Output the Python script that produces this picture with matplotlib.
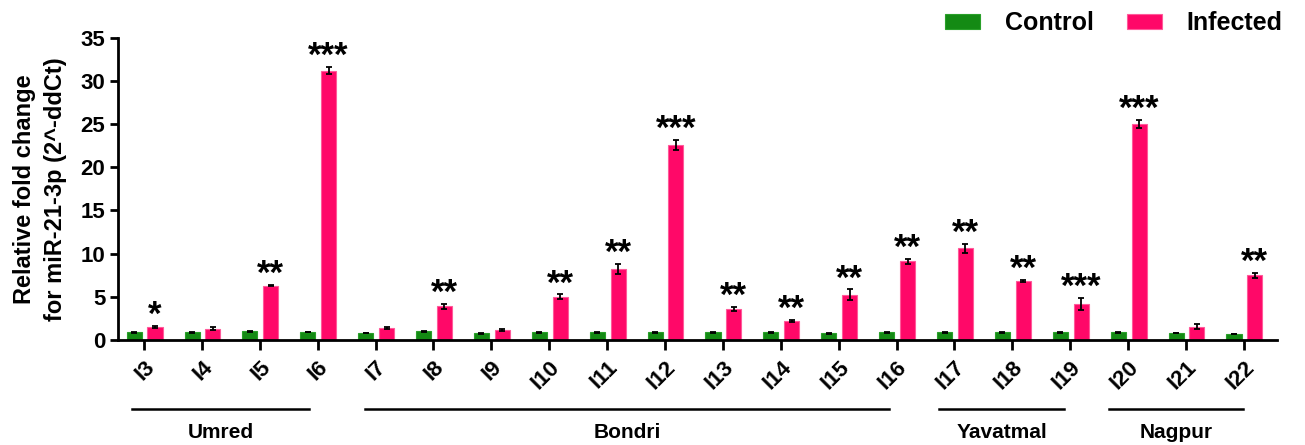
import numpy as np
import matplotlib
matplotlib.use("Agg")
import matplotlib.pyplot as plt

plt.rcParams['font.family'] = ['Liberation Sans', 'DejaVu Sans']
plt.rcParams['font.weight'] = 'bold'

# data
samples = ['I3', 'I4', 'I5', 'I6', 'I7', 'I8', 'I9', 'I10', 'I11', 'I12',
           'I13', 'I14', 'I15', 'I16', 'I17', 'I18', 'I19', 'I20', 'I21', 'I22']
control = [0.9, 0.9, 1.0, 0.9, 0.8, 1.0, 0.8, 0.9, 0.9, 0.9,
           0.9, 0.9, 0.8, 0.9, 0.9, 0.9, 0.9, 0.9, 0.8, 0.7]
control_err = [0.05, 0.05, 0.05, 0.0, 0.0, 0.05, 0.05, 0.05, 0.05, 0.05,
               0.05, 0.05, 0.05, 0.05, 0.05, 0.05, 0.05, 0.05, 0.0, 0.0]
infected = [1.5, 1.3, 6.3, 31.2, 1.4, 3.9, 1.15, 5.0, 8.2, 22.6,
            3.6, 2.2, 5.25, 9.1, 10.6, 6.85, 4.2, 25.0, 1.55, 7.5]
infected_err = [0.1, 0.2, 0.1, 0.4, 0.1, 0.3, 0.15, 0.3, 0.6, 0.6,
                0.2, 0.15, 0.6, 0.3, 0.5, 0.15, 0.7, 0.5, 0.3, 0.3]
signif = ['*', '', '**', '***', '', '**', '', '**', '**', '***',
          '**', '**', '**', '**', '**', '**', '***', '***', '', '**']

groups = ['Umred', 'Bondri', 'Yavatmal', 'Nagpur']
group_span = [(-0.21, 2.85), (3.82, 12.87), (13.73, 15.9), (16.67, 18.98)]

green = '#148a14'
pink = '#ff0868'

fig = plt.figure(figsize=(13.05, 4.45), dpi=100)
ax = fig.add_axes([0.0904, 0.236, 0.888, 0.679])

x = np.arange(len(samples))
w = 0.26
ekw = dict(ecolor='black', elinewidth=1.3, capsize=2.5, capthick=1.3)
ax.bar(x - 0.17, control, w, color=green, edgecolor='#2aa02a', linewidth=0.8, label='Control',
       yerr=control_err, error_kw=ekw)
ax.bar(x + 0.19, infected, w, color=pink, edgecolor='#ff5a9a', linewidth=0.8, label='Infected',
       yerr=infected_err, error_kw=ekw)

for i, s in enumerate(signif):
    if s:
        ax.text(x[i] + 0.19, infected[i] + infected_err[i] + 0.1, s, ha='center', va='baseline',
                fontsize=25, fontweight='bold')

ax.set_xlim(-0.45, 19.57)
ax.set_ylim(0, 35)
ax.set_yticks(range(0, 36, 5))
ax.set_xticks(x)
ax.set_xticklabels(samples, rotation=45, ha='right', rotation_mode='anchor', fontsize=16, fontweight='bold')
ax.tick_params(axis='y', labelsize=16, width=2, length=6, pad=3)
ax.tick_params(axis='x', width=2, length=7, pad=5)
for lab in ax.get_yticklabels():
    lab.set_fontweight('bold')

for side in ['top', 'right']:
    ax.spines[side].set_visible(False)
for side in ['left', 'bottom']:
    ax.spines[side].set_linewidth(2)

ax.set_ylabel('Relative fold change\nfor miR-21-3p (2^-ddCt)', fontsize=17, fontweight='bold',
              labelpad=10, linespacing=1.45)

# group lines and names under the axis
for name, (a, b) in zip(groups, group_span):
    ax.plot([a, b], [-0.23, -0.23], color='black', lw=1.8, clip_on=False,
            transform=ax.get_xaxis_transform())
    ax.text((a + b) / 2, -0.305, name, ha='center', va='center', fontsize=15, fontweight='bold',
            transform=ax.get_xaxis_transform())

leg = fig.legend(loc='upper right', bbox_to_anchor=(1.0, 1.025), ncol=2, frameon=False,
                 prop={'size': 18, 'weight': 'bold'}, handlelength=1.4, handleheight=0.55,
                 columnspacing=1.3, handletextpad=1.0)

fig.savefig('out.png', dpi=100)
